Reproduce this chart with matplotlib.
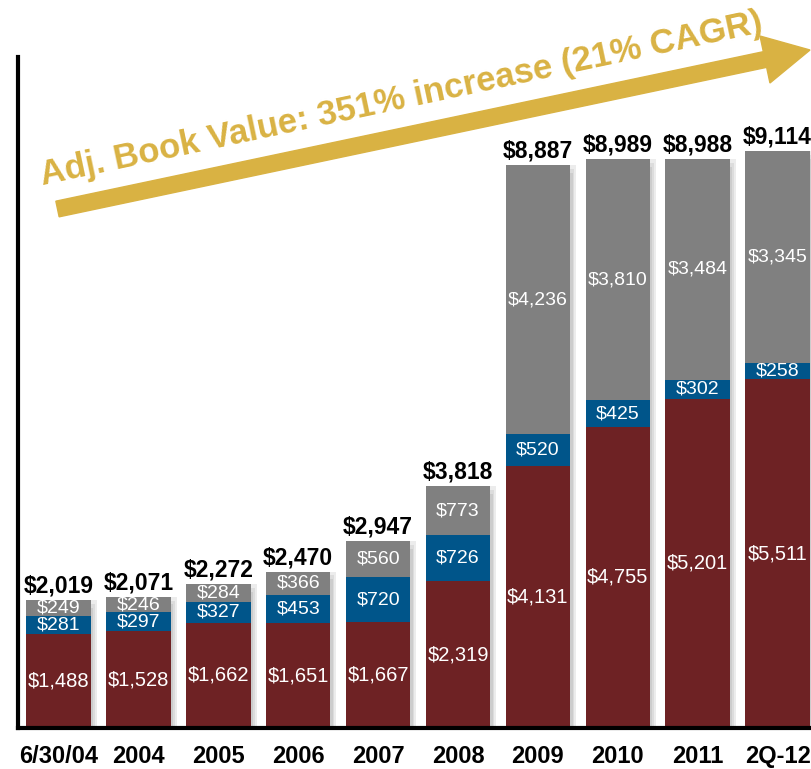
import numpy as np
import matplotlib
matplotlib.use('Agg')
import matplotlib.pyplot as plt
import matplotlib.patches as mpatches

plt.rcParams['font.family'] = ['Liberation Sans', 'DejaVu Sans']

categories = ['6/30/04', '2004', '2005', '2006', '2007', '2008', '2009', '2010', '2011', '2Q-12']
bottom_vals = [1488, 1528, 1662, 1651, 1667, 2319, 4131, 4755, 5201, 5511]
middle_vals = [281, 297, 327, 453, 720, 726, 520, 425, 302, 258]
top_vals = [249, 246, 284, 366, 560, 773, 4236, 3810, 3484, 3345]
totals = [2019, 2071, 2272, 2470, 2947, 3818, 8887, 8989, 8988, 9114]
arrow_text = 'Adj. Book Value: 351% increase (21% CAGR)'

red = '#6E2224'
blue = '#00558A'
gray = '#808080'
gold = '#D9B243'


def main():
    fig = plt.figure(figsize=(8.12, 7.69), dpi=100)
    ax = fig.add_axes([18/812, 41/769, 1 - 18/812, (728-57)/769])

    x = np.arange(len(categories))
    b = np.array(bottom_vals)
    m = np.array(middle_vals)
    t = np.array(top_vals)
    w = 0.807

    # soft shadow behind each stack
    tot = b + m + t
    for k, (dx, c) in enumerate([(0.075, '#ececec'), (0.05, '#dcdcdc'), (0.03, '#cccccc')]):
        ax.bar(x + dx, tot - 60 * k, width=w, color=c, zorder=1)

    ax.bar(x, b, width=w, color=red, zorder=2)
    ax.bar(x, m, bottom=b, width=w, color=blue, zorder=2)
    ax.bar(x, t, bottom=b + m, width=w, color=gray, zorder=2)

    for i in x:
        ax.text(i, b[i] / 2, '${:,}'.format(b[i]), ha='center', va='center',
                color='white', fontsize=14.5, zorder=3)
        ax.text(i, b[i] + m[i] / 2, '${:,}'.format(m[i]), ha='center', va='center',
                color='white', fontsize=14, zorder=3)
        ax.text(i, b[i] + m[i] + t[i] / 2, '${:,}'.format(t[i]), ha='center', va='center',
                color='white', fontsize=14, zorder=3)
        ax.text(i, tot[i] + 40, '${:,}'.format(totals[i]), ha='center', va='bottom',
                color='black', fontsize=16.5, fontweight='bold', zorder=3)

    ax.set_xlim(-0.507, 9.43)
    ax.set_ylim(0, 10600)
    ax.set_xticks(x)
    ax.set_xticklabels(categories, fontsize=17, fontweight='bold')
    ax.tick_params(axis='x', length=0, pad=12)
    ax.set_yticks([])
    ax.spines['top'].set_visible(False)
    ax.spines['right'].set_visible(False)
    ax.spines['left'].set_linewidth(3)
    ax.spines['bottom'].set_linewidth(3)

    # growth arrow, drawn in inches so it is not distorted
    arr = mpatches.FancyArrow(0.575, 5.60, 7.525, 1.59, width=0.16, head_width=0.48,
                              head_length=0.46, length_includes_head=True, color=gold,
                              transform=fig.dpi_scale_trans, clip_on=False)
    fig.add_artist(arr)
    fig.text(0.43, 5.84, arrow_text, transform=fig.dpi_scale_trans, rotation=12,
             rotation_mode='anchor', ha='left', va='baseline', fontsize=25,
             fontweight='bold', color=gold)

    fig.savefig('out.png', dpi=100)


if __name__ == '__main__':
    main()
